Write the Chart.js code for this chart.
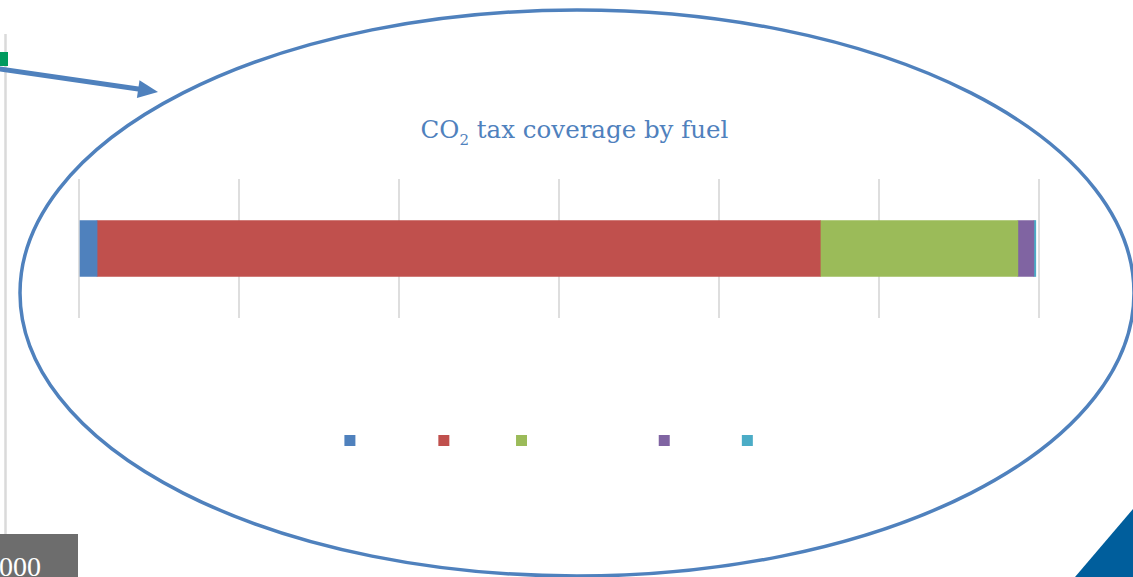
<!DOCTYPE html>
<html>
<head>
<meta charset="utf-8">
<script src="https://cdn.jsdelivr.net/npm/chart.js@4/dist/chart.umd.min.js"></script>
<style>
  html, body { margin: 0; padding: 0; background: #fff; overflow: hidden; }
  #wrap { position: relative; width: 1133px; height: 577px; }
  #deco { position: absolute; left: 0; top: 0; }
  #chartBox { position: absolute; left: 0; top: 0; width: 1133px; height: 577px; }
</style>
</head>
<body>
<div id="wrap">
  <svg id="deco" width="1133" height="577" xmlns="http://www.w3.org/2000/svg">
    <line x1="5.5" y1="34" x2="5.5" y2="534" stroke="#DADADA" stroke-width="2.5"/>
    <rect x="-2" y="52" width="10" height="14" fill="#009A5E"/>
    <line x1="-10" y1="67.6" x2="140" y2="89.3" stroke="#4F81BD" stroke-width="5"/>
    <polygon points="158,92 139.5,80.2 136.9,98" fill="#4F81BD"/>
    <ellipse cx="577" cy="293" rx="557" ry="283" fill="none" stroke="#4F81BD" stroke-width="3.5"/>
    <rect x="0" y="534" width="78" height="43" fill="#6D6D6D"/>
    <text x="41" y="576" text-anchor="end" font-family="Liberation Serif" font-size="28" fill="#fff">2000</text>
    <polygon points="1075,577 1133,509 1133,577" fill="#005E9C"/>
    <text x="574.5" y="138" text-anchor="middle" font-family="DejaVu Serif" font-size="24.5" fill="#4F81BD">CO<tspan font-size="15" dy="7">2</tspan><tspan dy="-7"> tax coverage by fuel</tspan></text>
  </svg>
  <div id="chartBox"><canvas id="chart"></canvas></div>
</div>
<script>
// fuel categories (legend labels are white in the original)
const fuels = ['Coal and coke', 'Motor fuel', 'Natural gas and biogas', 'Peat & wood', 'LPG'];
const coverage = [1.13, 45.2, 12.35, 1.0, 0.12];
const colors = ['#4F81BD', '#C0504D', '#9BBB59', '#8064A2', '#4BACC6'];
const xTicks = [0, 10, 20, 30, 40, 50, 60];

const datasets = fuels.map((f, i) => ({
  label: f,
  data: [coverage[i]],
  backgroundColor: colors[i],
  borderWidth: 0,
  barThickness: 56
}));

const config = {
  type: 'bar',
  data: { labels: ['CO2'], datasets: datasets },
  options: {
    indexAxis: 'y',
    responsive: true,
    maintainAspectRatio: false,
    animation: false,
    layout: { padding: { left: 79, right: 94, top: 179, bottom: 121 } },
    plugins: {
      title: { display: false },
      tooltip: { enabled: false },
      legend: {
        position: 'bottom',
        labels: {
          boxWidth: 11,
          boxHeight: 11,
          padding: 8,
          color: '#ffffff',
          font: { family: 'DejaVu Sans Mono', size: 9 }
        }
      }
    },
    scales: {
      x: {
        stacked: true,
        min: xTicks[0],
        max: xTicks[xTicks.length - 1],
        ticks: { stepSize: 10, color: '#ffffff', display: false },
        grid: { color: '#DEDEDE', lineWidth: 2, drawTicks: false },
        border: { display: false },
        afterFit: function(scale) { scale.height = 109; }
      },
      y: {
        stacked: true,
        display: false
      }
    }
  }
};

var ctx = document.getElementById('chart');
var myChart = new Chart(ctx, config);
</script>
</body>
</html>
